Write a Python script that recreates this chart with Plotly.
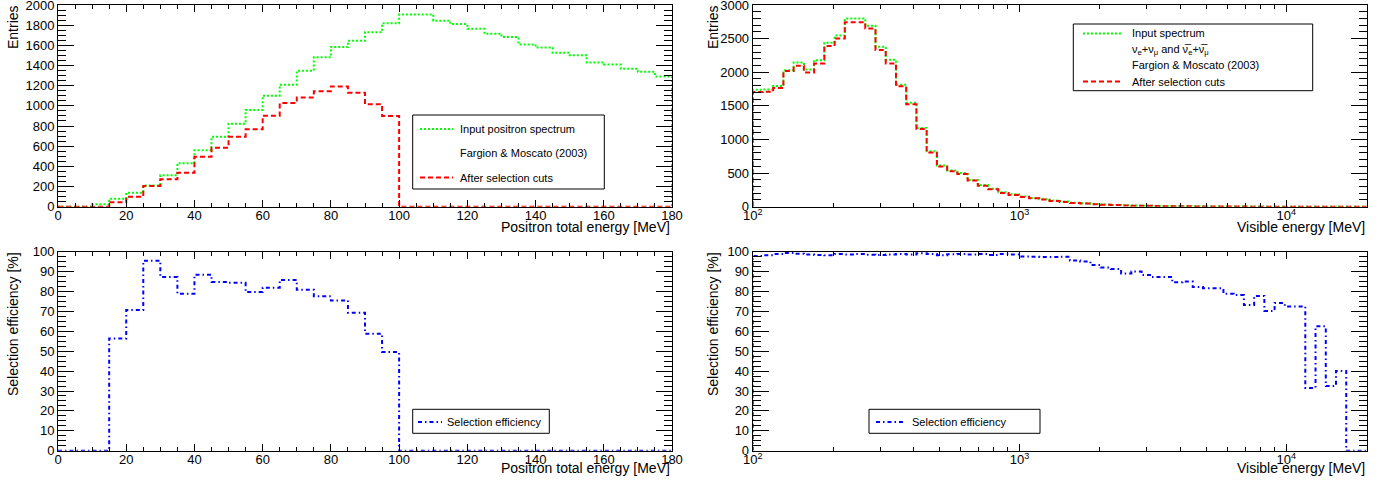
import numpy as np
import plotly.graph_objects as go

W, H = 1390, 485

# ---------------- data ----------------
# Left panels: positron total energy, 5 MeV bins from 0 to 180 MeV
pos_edges = np.linspace(0, 180, 37)
pos_input = [0, 0, 25, 78, 139, 211, 311, 430, 559, 694, 823, 959, 1101, 1210,
             1349, 1481, 1584, 1645, 1731, 1818, 1905, 1907, 1844, 1811, 1764,
             1715, 1682, 1609, 1579, 1526, 1502, 1429, 1410, 1367, 1337, 1290]
pos_cuts = [0, 0, 0, 45, 99, 205, 271, 337, 496, 585, 694, 767, 903, 1028,
            1084, 1144, 1193, 1131, 1015, 899, 0, 0, 0, 0, 0, 0, 0, 0, 0, 0,
            0, 0, 0, 0, 0, 0]
pos_eff = [0, 0, 0, 56.4, 70.7, 95.5, 87.3, 78.9, 88.4, 84.8, 84.4, 79.7, 81.9,
           85.8, 80.9, 77.6, 75.5, 69.3, 58.8, 49.6, 0, 0, 0, 0, 0, 0, 0, 0, 0,
           0, 0, 0, 0, 0, 0, 0]

# Right panels: visible energy, 60 log bins from 100 MeV to 20 GeV
nu_edges = np.logspace(2, np.log10(20000), 61)
nu_input = [1740, 1745, 1795, 2030, 2145, 2040, 2180, 2440, 2545, 2800, 2800,
            2690, 2380, 2185, 1815, 1545, 1170, 825, 612, 540, 502, 398, 323,
            268, 215, 185, 152, 130, 112, 92, 76, 60, 50, 41, 33, 27, 22, 18,
            15, 12, 10, 8, 6.5, 5, 4, 3.2, 2.5, 2, 1.5, 1.2, 1, 0.8, 0.6, 0.5,
            0.4, 0.3, 0.3, 0.2, 0, 0]
nu_cuts = [1705, 1710, 1765, 2020, 2095, 1995, 2130, 2390, 2500, 2745, 2745,
           2650, 2330, 2130, 1790, 1522, 1154, 806, 597, 527, 487, 388, 310,
           259, 205, 175, 145, 124, 106, 86, 70, 55, 46, 37, 29, 24, 19, 15,
           12.5, 10, 8, 6.5, 5, 4, 3, 2.5, 2, 1.5, 1.1, 0.9, 0.7, 0.55, 0.45,
           0.35, 0.15, 0.2, 0.1, 0.08, 0, 0]
nu_eff = [97.8, 98.2, 98.8, 99.4, 99.0, 98.6, 98.4, 98.2, 98.8, 98.6, 98.9,
          98.5, 98.3, 98.6, 98.9, 98.6, 99.2, 98.8, 98.2, 98.7, 98.9, 98.6,
          98.9, 98.4, 98.8, 98.6, 97.6, 97.4, 97.3, 97.3, 97.5, 95.6, 95.1,
          93.3, 92.0, 91.3, 89.1, 90.0, 88.3, 87.3, 87.3, 84.6, 85.0, 82.2,
          81.6, 81.6, 78.9, 78.2, 73.2, 77.7, 70.2, 74.2, 72.5, 72.5, 31.5,
          62.5, 32.5, 40.0, 0, 0]

# ---------------- helpers ----------------
def step(edges, vals):
    x = [edges[0]] + list(edges) + [edges[-1]]
    y = [0] + list(vals) + [vals[-1], 0]
    return x, y

def px(x):
    return x / W

def py(y):
    return 1 - y / H

GREEN = "#00ff00"
RED = "#ff0000"
BLUE = "#0000ff"
DOT = "2px,2px"
DASH = "5px,3px"
DASHDOT = "4px,3px,1.5px,3px"
FONT = "Liberation Sans, Arial, Helvetica, sans-serif"

fig = go.Figure()

def add_hist(edges, vals, color, dash, xa, ya):
    x, y = step(edges, vals)
    fig.add_trace(go.Scatter(x=x, y=y, mode="lines", line_shape="hv",
                             line=dict(color=color, width=2, dash=dash),
                             xaxis=xa, yaxis=ya, showlegend=False,
                             hoverinfo="skip"))

add_hist(pos_edges, pos_input, GREEN, DOT, "x", "y")
add_hist(pos_edges, pos_cuts, RED, DASH, "x", "y")
add_hist(nu_edges, nu_input, GREEN, DOT, "x2", "y2")
add_hist(nu_edges, nu_cuts, RED, DASH, "x2", "y2")
add_hist(pos_edges, pos_eff, BLUE, DASHDOT, "x3", "y3")
add_hist(nu_edges, nu_eff, BLUE, DASHDOT, "x4", "y4")

# ---------------- axes ----------------
LX = [px(58), px(672)]
RX = [px(752.7), px(1366.7)]
TY = [py(206.7), py(5)]
BY = [py(450.7), py(251.7)]

tickfont = dict(family=FONT, size=13, color="black")

common = dict(ticks="inside", tickwidth=1, tickcolor="black",
              showline=True, linecolor="black", linewidth=1,
              mirror="allticks", showgrid=False, zeroline=False,
              automargin=False, tickfont=tickfont, ticklabeloverflow="allow")

def lin_x(dom, anchor):
    return dict(domain=dom, anchor=anchor, range=[0, 180], tick0=0, dtick=20,
                ticklen=7, ticklabelstandoff=-3,
                minor=dict(ticks="inside", ticklen=4, dtick=5, tick0=0,
                           tickcolor="black", showgrid=False), **common)

log_major = [100, 1000, 10000]
log_text = ["10<sup>2</sup>", "10<sup>3</sup>", "10<sup>4</sup>"]
log_minor = [m * 10 ** d for d in (2, 3, 4) for m in range(2, 10)
             if m * 10 ** d <= 20000]

def log_x(dom, anchor):
    return dict(domain=dom, anchor=anchor, type="log",
                range=[2, np.log10(20000)], tickmode="array",
                tickvals=log_major, ticktext=log_text,
                ticklen=7, ticklabelstandoff=-3,
                minor=dict(ticks="inside", ticklen=4, tickmode="array",
                           tickvals=log_minor, tickcolor="black",
                           showgrid=False), **common)

def lin_y(dom, anchor, top, dt, mdt):
    return dict(domain=dom, anchor=anchor, range=[0, top], tick0=0, dtick=dt,
                ticklen=16,
                minor=dict(ticks="inside", ticklen=8, dtick=mdt, tick0=0,
                           tickcolor="black", showgrid=False), **common)

fig.update_layout(
    width=W, height=H,
    margin=dict(l=0, r=0, t=0, b=0, autoexpand=False),
    paper_bgcolor="white", plot_bgcolor="white",
    showlegend=False,
    font=dict(family=FONT, color="black"),
    xaxis=lin_x(LX, "y"),
    yaxis=lin_y(TY, "x", 2000, 200, 50),
    xaxis2=log_x(RX, "y2"),
    yaxis2=lin_y(TY, "x2", 3000, 500, 100),
    xaxis3=lin_x(LX, "y3"),
    yaxis3=lin_y(BY, "x3", 100, 10, 2.5),
    xaxis4=log_x(RX, "y4"),
    yaxis4=lin_y(BY, "x4", 100, 10, 2.5),
)

annotations = []
shapes = []

def title_x(text, xr, ybottom):
    annotations.append(dict(text=text, x=px(xr), y=py(ybottom), xref="paper",
                            yref="paper", xanchor="right", yanchor="bottom",
                            showarrow=False,
                            font=dict(family=FONT, size=14, color="black")))

def title_y(text, xc, ytop):
    annotations.append(dict(text=text, x=px(xc), y=py(ytop), xref="paper",
                            yref="paper", xanchor="center", yanchor="top",
                            textangle=-90, showarrow=False,
                            font=dict(family=FONT, size=14, color="black")))

title_x("Positron total energy [MeV]", 672, 237)
title_x("Positron total energy [MeV]", 672, 478)
title_x("Visible energy [MeV]", 1367, 237)
title_x("Visible energy [MeV]", 1367, 478)
title_y("Entries", 13, 3)
title_y("Entries", 713, 3)
title_y("Selection efficiency [%]", 13, 250)
title_y("Selection efficiency [%]", 713, 250)

# ---------------- legends ----------------
def leg_box(x0, y0, x1, y1):
    shapes.append(dict(type="rect", xref="paper", yref="paper",
                       x0=px(x0), x1=px(x1), y0=py(y1), y1=py(y0),
                       line=dict(color="black", width=1), fillcolor="white",
                       layer="above"))

def leg_line(x0, x1, y, color, dash):
    shapes.append(dict(type="line", xref="paper", yref="paper",
                       x0=px(x0), x1=px(x1), y0=py(y), y1=py(y),
                       line=dict(color=color, width=2, dash=dash),
                       layer="above"))

def leg_text(x, y, text):
    annotations.append(dict(text=text, x=px(x), y=py(y), xref="paper",
                            yref="paper", xanchor="left", yanchor="middle",
                            showarrow=False,
                            font=dict(family=FONT, size=11, color="black")))

# top-left
leg_box(412.7, 115, 604.3, 189)
leg_line(420, 453, 129, GREEN, DOT)
leg_text(458, 129, "Input positron spectrum")
leg_text(458, 153, "Fargion &amp; Moscato (2003)")
leg_line(420, 453, 177.5, RED, DASH)
leg_text(458, 177.5, "After selection cuts")

# top-right
leg_box(1073.3, 24, 1312.7, 90.7)
leg_line(1083, 1122, 33.5, GREEN, DOT)
leg_text(1130, 33.5, "Input spectrum")
leg_text(1130, 50,
         "ν<sub>e</sub>+ν<sub>μ</sub> and ν\u0305<sub>e</sub>+ν\u0305<sub>μ</sub>")
leg_text(1130, 65.5, "Fargion &amp; Moscato (2003)")
leg_line(1083, 1122, 81.5, RED, DASH)
leg_text(1130, 81.5, "After selection cuts")

# bottom-left
leg_box(412.7, 409.3, 549.3, 433.3)
leg_line(418, 442, 422, BLUE, DASHDOT)
leg_text(445, 422, "Selection efficiency")

# bottom-right
leg_box(869, 409.3, 1040, 433.3)
leg_line(876, 906, 422, BLUE, DASHDOT)
leg_text(910, 422, "Selection efficiency")

fig.update_layout(annotations=annotations, shapes=shapes)

fig.write_html("out.html")
